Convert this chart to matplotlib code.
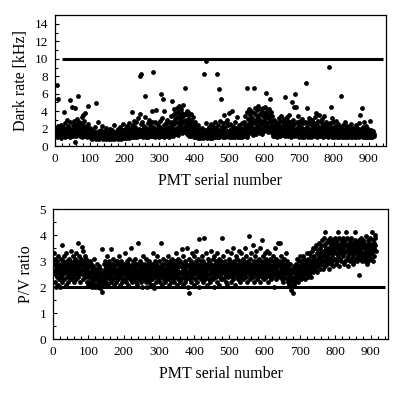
import numpy as np
import matplotlib
matplotlib.use("Agg")
import matplotlib.pyplot as plt
from matplotlib.ticker import MultipleLocator

plt.rcParams['font.family'] = ['Liberation Serif', 'DejaVu Serif']

# dark rate [kHz], one value per PMT serial number (1, 2, 3, ...)
dark_rate = [
    1.4, 2.1, 1.2, 1.8, 7.0, 1.5, 1.0, 2.3, 1.6, 5.4, 1.3, 1.9, 1.1, 2.0, 1.7, 1.2, 2.4, 1.5, 0.9, 1.8,
    1.6, 1.1, 2.2, 1.4, 3.9, 1.3, 1.7, 2.6, 1.0, 1.5, 2.0, 1.2, 1.8, 3.0, 1.4, 1.1, 2.3, 1.6, 1.9, 1.3,
    2.1, 1.5, 1.0, 2.7, 5.3, 1.7, 1.2, 4.5, 2.0, 1.4, 1.8, 2.4, 1.1, 1.6, 2.9, 1.3, 2.2, 0.5, 4.4, 1.9,
    2.5, 1.2, 3.1, 1.7, 2.0, 1.4, 5.7, 2.3, 1.6, 2.8, 1.1, 1.9, 2.6, 1.3, 2.2, 1.5, 3.3, 1.8, 1.0, 2.4,
    1.7, 3.5, 1.2, 2.0, 2.9, 1.4, 3.8, 1.6, 1.1, 2.2, 1.3, 1.8, 1.0, 2.5, 1.5, 4.6, 1.2, 1.9, 1.4, 2.1,
    1.1, 1.6, 0.9, 1.3, 2.0, 1.0, 1.4, 0.8, 1.7, 1.2, 0.9, 1.5, 1.1, 2.2, 1.0, 1.3, 0.8, 1.6, 4.9, 1.2,
    1.0, 1.4, 2.8, 0.9, 1.2, 1.7, 1.0, 0.8, 1.5, 1.1, 1.3, 0.9, 1.8, 1.0, 1.2, 2.3, 0.8, 1.4, 1.1, 1.6,
    0.9, 1.3, 1.0, 1.7, 1.2, 0.8, 1.5, 2.1, 1.0, 1.3, 0.9, 1.1, 1.6, 0.8, 1.4, 1.0, 1.2, 1.9, 0.9, 1.3,
    1.1, 0.8, 1.5, 1.0, 1.8, 1.2, 0.9, 1.4, 2.4, 1.1, 0.8, 1.3, 1.6, 1.0, 1.2, 0.9, 1.7, 1.1, 1.4, 0.8,
    1.2, 1.9, 1.0, 1.5, 0.9, 1.3, 2.2, 1.1, 1.6, 0.8, 1.4, 1.0, 1.8, 1.2, 2.5, 1.0, 1.5, 0.9, 1.3, 1.7,
    1.1, 2.0, 1.4, 0.9, 1.6, 1.2, 2.3, 1.0, 1.5, 1.8, 1.1, 2.6, 1.3, 0.9, 1.7, 1.2, 2.1, 1.0, 1.4, 3.9,
    1.3, 1.8, 1.0, 2.4, 1.5, 1.1, 2.9, 1.4, 1.9, 1.0, 2.2, 1.6, 1.2, 2.7, 1.3, 1.0, 1.8, 3.2, 1.4, 1.1,
    2.0, 1.5, 8.0, 1.2, 3.7, 8.2, 1.7, 2.5, 1.1, 1.6, 2.8, 1.3, 1.9, 1.0, 2.3, 1.4, 1.2, 3.3, 1.6, 5.7,
    1.0, 2.1, 1.4, 1.8, 1.2, 2.6, 1.5, 1.0, 2.0, 1.3, 3.0, 1.7, 1.1, 2.4, 1.4, 1.9, 1.2, 2.8, 4.0, 1.5,
    1.1, 2.2, 8.5, 1.6, 1.3, 2.7, 1.0, 1.8, 4.1, 1.4, 2.0, 1.2, 2.5, 1.5, 1.1, 1.9, 1.3, 2.3, 1.0, 1.7,
    2.9, 1.4, 1.2, 2.1, 6.0, 1.5, 3.2, 1.1, 1.8, 5.4, 1.3, 2.4, 1.0, 4.0, 1.6, 2.0, 1.2, 2.6, 1.4, 1.9,
    1.1, 3.0, 1.5, 2.2, 1.3, 1.8, 2.7, 1.0, 2.0, 1.6, 1.2, 3.4, 1.4, 2.3, 5.2, 1.7, 2.8, 1.1, 3.6, 1.9,
    2.5, 4.2, 1.6, 3.1, 2.0, 3.8, 1.4, 2.7, 4.4, 1.8, 3.3, 2.2, 1.3, 3.9, 2.6, 4.6, 1.7, 3.0, 2.1, 3.6,
    4.3, 2.4, 3.2, 1.5, 3.8, 2.8, 4.7, 2.0, 3.4, 1.6, 2.9, 3.7, 2.2, 6.6, 1.9, 3.0, 2.5, 4.0, 1.4, 2.7,
    3.5, 1.8, 3.9, 2.3, 1.2, 3.1, 2.0, 2.6, 1.5, 3.7, 1.1, 2.4, 1.7, 2.9, 1.3, 2.1, 3.3, 1.0, 1.8, 2.5,
    1.2, 1.6, 2.8, 1.0, 1.4, 2.2, 1.1, 1.9, 1.3, 0.9, 1.7, 2.4, 1.0, 1.5, 1.2, 2.0, 0.9, 1.4, 1.1, 1.8,
    1.0, 1.3, 2.1, 0.9, 1.6, 1.2, 1.1, 1.5, 8.3, 1.0, 1.8, 1.3, 2.6, 9.8, 0.9, 1.4, 1.2, 1.9, 1.0, 1.6,
    1.3, 2.2, 1.1, 1.7, 0.9, 1.4, 2.5, 1.0, 1.6, 1.2, 2.0, 0.9, 1.5, 1.1, 2.3, 1.3, 1.8, 1.0, 1.4, 2.7,
    1.2, 1.6, 2.1, 1.0, 8.2, 1.5, 1.3, 2.4, 1.1, 6.5, 1.8, 1.0, 1.4, 2.9, 1.2, 5.4, 1.7, 1.1, 2.2, 1.5,
    1.0, 1.9, 2.6, 1.3, 3.6, 1.1, 1.6, 2.2, 1.0, 2.8, 1.4, 1.2, 3.0, 1.7, 1.1, 2.4, 1.3, 1.5, 3.8, 1.0,
    1.8, 1.2, 2.5, 1.0, 1.4, 2.0, 1.1, 4.0, 1.6, 1.3, 2.3, 1.0, 1.5, 1.9, 1.2, 2.7, 1.0, 1.4, 1.7, 1.1,
    2.1, 3.3, 1.2, 1.6, 1.0, 1.9, 1.3, 2.4, 1.1, 1.5, 1.0, 2.2, 1.4, 1.2, 1.8, 1.0, 2.6, 1.3, 1.6, 2.0,
    1.2, 2.8, 1.5, 1.1, 2.3, 3.4, 1.7, 1.3, 2.0, 3.9, 1.0, 6.6, 2.5, 1.4, 3.1, 1.8, 4.3, 2.2, 1.6, 2.9,
    3.6, 1.9, 2.4, 4.0, 1.5, 3.2, 2.1, 2.7, 1.3, 6.6, 3.8, 2.0, 4.4, 1.7, 2.6, 3.0, 1.4, 3.5, 2.3, 4.1,
    2.0, 3.3, 1.6, 4.6, 2.8, 2.2, 3.7, 1.5, 3.0, 4.2, 2.5, 1.8, 3.9, 2.7, 1.4, 3.4, 2.1, 4.4, 2.9, 1.7,
    3.8, 2.4, 3.1, 4.5, 1.9, 6.1, 3.6, 2.6, 4.0, 2.2, 3.3, 1.6, 4.3, 2.8, 3.5, 1.9, 5.4, 3.0, 2.3, 3.9,
    2.0, 3.4, 1.5, 2.7, 1.2, 2.2, 1.8, 3.0, 1.4, 2.5, 1.1, 2.0, 1.6, 2.8, 1.3, 2.3, 1.9, 1.0, 2.6, 1.5,
    2.1, 3.2, 1.4, 2.4, 1.7, 2.9, 1.2, 2.2, 1.8, 3.4, 1.5, 2.0, 2.7, 1.3, 1.9, 2.5, 1.6, 3.1, 1.1, 2.3,
    5.6, 1.7, 2.6, 1.4, 2.1, 3.3, 1.8, 2.4, 1.2, 2.9, 1.5, 2.0, 3.6, 1.3, 2.2, 1.7, 2.8, 1.0, 1.6, 5.0,
    2.3, 1.4, 3.0, 1.9, 4.5, 1.2, 2.5, 1.6, 6.0, 2.0, 1.3, 4.5, 1.8, 2.7, 1.1, 2.2, 3.4, 1.5, 1.9, 1.0,
    2.4, 1.3, 1.8, 2.9, 1.1, 1.6, 2.2, 1.0, 3.1, 1.4, 1.9, 1.2, 2.6, 1.5, 1.0, 2.0, 1.3, 2.8, 1.7, 7.2,
    1.2, 4.4, 1.6, 2.3, 1.0, 1.8, 2.7, 1.3, 1.5, 3.2, 1.1, 2.0, 1.4, 2.5, 1.7, 1.0, 3.0, 1.3, 2.2, 1.6,
    1.1, 2.6, 1.5, 1.9, 3.3, 1.2, 2.1, 1.4, 3.8, 1.7, 2.4, 1.0, 1.6, 2.9, 1.3, 2.2, 1.8, 3.5, 1.1, 2.0,
    1.5, 2.7, 1.2, 1.9, 3.1, 1.4, 2.3, 1.0, 1.7, 2.5, 1.3, 2.0, 3.4, 1.6, 1.1, 2.2, 1.4, 2.8, 1.8, 1.2,
    2.4, 1.5, 1.0, 2.0, 1.7, 9.1, 1.3, 2.6, 1.1, 1.9, 4.5, 1.4, 2.2, 1.0, 3.2, 1.6, 2.0, 1.2, 2.7, 1.5,
    1.0, 1.8, 2.3, 1.3, 1.6, 2.9, 1.1, 1.5, 2.1, 1.0, 1.7, 1.3, 2.5, 1.2, 1.9, 1.0, 1.4, 2.2, 1.6, 1.1,
    5.7, 1.3, 2.0, 1.0, 1.5, 2.4, 1.2, 1.8, 1.0, 1.4, 2.7, 1.1, 1.6, 2.1, 1.3, 1.0, 1.9, 1.5, 2.3, 1.2,
    1.0, 1.7, 1.3, 2.2, 1.1, 1.5, 1.9, 1.0, 2.5, 1.4, 1.2, 1.8, 1.0, 2.1, 1.3, 1.6, 1.1, 2.0, 1.4, 1.0,
    1.8, 1.2, 2.4, 1.5, 1.0, 1.7, 2.1, 1.3, 1.1, 1.9, 1.4, 2.6, 1.0, 1.6, 1.2, 3.6, 1.5, 2.0, 1.1, 4.4,
    1.3, 1.8, 1.0, 2.2, 1.4, 1.1, 2.7, 1.6, 1.2, 1.0, 1.9, 1.4, 2.3, 1.1, 1.5, 1.0, 1.7, 1.2, 2.0, 1.3,
    1.0, 1.6, 2.9, 1.2, 1.4, 1.0, 1.8, 1.1, 1.5, 1.3, 1.0, 1.7, 1.2, 1.4, 1.1,
]

# peak-to-valley ratio, one value per PMT serial number
pv_ratio = [
    3.3, 2.6, 2.9, 2.2, 3.1, 2.5, 2.8, 2.0, 2.7, 3.0, 2.4, 2.9, 2.1, 2.6, 3.2, 2.3, 2.8, 2.5, 2.0, 2.7,
    2.9, 2.4, 3.1, 2.6, 3.6, 2.2, 2.8, 3.0, 2.5, 2.7, 2.3, 3.2, 2.6, 2.9, 2.1, 2.8, 3.3, 2.4, 2.7, 3.0,
    2.5, 2.9, 2.2, 3.1, 2.7, 2.4, 3.0, 2.6, 2.8, 3.4, 2.3, 2.7, 2.9, 2.5, 3.2, 2.6, 2.4, 3.0, 2.8, 2.2,
    2.7, 3.1, 2.5, 2.9, 2.3, 3.3, 2.6, 2.8, 3.0, 2.4, 3.7, 2.7, 2.5, 3.2, 2.9, 2.2, 2.8, 3.1, 2.6, 3.0,
    3.55, 2.5, 2.9, 3.4, 2.7, 2.3, 3.0, 2.6, 3.2, 2.8, 2.4, 3.1, 2.5, 2.9, 2.2, 2.7, 3.0, 2.4, 2.6, 2.1,
    2.5, 2.8, 2.2, 3.0, 2.4, 2.6, 2.1, 2.9, 2.3, 2.7, 2.0, 2.5, 2.8, 2.2, 2.4, 3.1, 2.1, 2.6, 2.3, 2.0,
    2.4, 2.7, 2.1, 2.5, 2.9, 2.2, 2.0, 2.6, 2.3, 2.8, 2.1, 2.4, 1.95, 2.7, 2.2, 2.5, 2.0, 3.45, 1.82, 2.3,
    2.6, 2.2, 2.9, 2.4, 2.1, 2.7, 3.0, 2.3, 2.5, 2.8, 2.2, 3.2, 2.6, 2.4, 2.9, 2.1, 2.7, 3.0, 2.5, 2.3,
    2.8, 2.4, 3.45, 2.6, 2.2, 2.9, 2.5, 2.7, 3.1, 2.3, 2.6, 2.8, 2.1, 3.0, 2.4, 2.7, 2.5, 2.9, 2.2, 2.6,
    3.0, 2.4, 2.7, 2.9, 2.3, 2.6, 3.2, 2.5, 2.8, 2.1, 2.7, 3.0, 2.4, 2.6, 2.9, 2.2, 2.5, 2.8, 2.3, 2.7,
    2.6, 2.9, 2.3, 3.3, 2.5, 2.8, 2.2, 2.7, 3.0, 2.4, 2.6, 2.9, 2.1, 2.8, 2.5, 3.1, 2.3, 2.7, 2.6, 2.4,
    2.8, 3.5, 2.5, 2.2, 2.9, 2.6, 3.0, 2.4, 2.7, 2.3, 2.8, 2.5, 3.1, 2.2, 2.6, 2.9, 2.4, 2.7, 2.1, 2.5,
    2.9, 3.7, 2.6, 2.3, 2.8, 2.4, 3.0, 2.7, 2.2, 2.5, 2.9, 2.6, 2.0, 2.8, 3.2, 2.4, 2.7, 2.3, 2.6, 2.9,
    2.5, 2.2, 2.8, 3.1, 2.4, 2.6, 2.0, 2.7, 2.9, 2.3, 2.5, 3.0, 2.2, 2.8, 2.6, 2.4, 2.1, 2.7, 2.5, 2.9,
    2.3, 3.3, 2.6, 2.1, 2.8, 2.5, 1.95, 2.7, 3.0, 2.4, 2.6, 2.9, 2.2, 2.5, 3.2, 2.7, 2.3, 2.8, 2.4, 2.6,
    3.0, 2.5, 2.7, 2.2, 3.7, 2.6, 2.4, 2.9, 2.1, 2.8, 2.5, 3.1, 2.3, 2.7, 2.6, 2.9, 2.4, 2.2, 3.0, 2.5,
    2.7, 2.4, 2.9, 2.6, 3.2, 2.3, 2.8, 2.5, 2.1, 2.7, 3.0, 2.4, 2.6, 2.9, 2.2, 2.8, 2.5, 3.1, 2.3, 2.7,
    2.5, 2.9, 2.2, 2.7, 3.0, 2.4, 2.8, 2.6, 3.3, 2.1, 2.7, 2.5, 2.9, 2.3, 3.1, 2.6, 2.8, 2.4, 2.2, 3.0,
    2.6, 2.8, 2.3, 3.45, 2.5, 2.9, 2.7, 2.1, 3.2, 2.4, 2.8, 2.6, 3.0, 2.2, 2.7, 2.5, 2.9, 2.3, 3.5, 2.6,
    2.4, 2.8, 2.0, 3.1, 1.78, 2.6, 2.9, 2.3, 2.7, 3.0, 2.5, 2.2, 2.8, 3.3, 2.4, 2.6, 2.9, 2.1, 2.7, 3.2,
    2.5, 2.8, 2.3, 3.0, 2.6, 3.4, 2.2, 2.7, 2.9, 2.4, 3.1, 2.6, 2.8, 2.0, 3.85, 2.5, 2.7, 3.0, 2.3, 2.9,
    2.6, 3.2, 2.4, 2.8, 2.2, 3.0, 2.7, 2.5, 3.9, 2.3, 2.9, 2.6, 3.3, 2.4, 2.8, 2.1, 2.7, 3.1, 2.5, 2.9,
    2.3, 2.7, 3.0, 2.5, 2.8, 2.2, 3.4, 2.6, 2.9, 2.4, 2.7, 3.1, 2.3, 2.6, 2.8, 2.0, 3.2, 2.5, 2.7, 2.9,
    2.4, 3.0, 2.6, 2.2, 2.8, 3.3, 2.5, 2.7, 2.1, 2.9, 3.1, 2.4, 2.6, 2.8, 2.3, 3.0, 2.5, 2.7, 3.9, 2.6,
    2.8, 2.3, 3.2, 2.6, 2.9, 2.4, 2.7, 3.0, 2.2, 2.5, 2.8, 3.4, 2.6, 2.1, 2.9, 2.7, 2.4, 3.1, 2.6, 2.8,
    3.0, 2.5, 2.7, 2.2, 3.3, 2.9, 2.4, 2.6, 2.8, 3.5, 2.3, 2.7, 3.0, 2.5, 2.9, 2.1, 2.6, 3.2, 2.8, 2.4,
    2.7, 3.1, 2.5, 2.9, 2.3, 3.4, 2.6, 2.8, 2.2, 3.0, 2.7, 2.5, 3.3, 2.4, 2.9, 2.6, 3.1, 2.8, 2.3, 2.7,
    3.0, 2.5, 2.8, 3.5, 2.6, 2.9, 2.4, 3.2, 2.7, 2.2, 2.8, 3.0, 2.6, 3.95, 2.5, 2.9, 2.3, 3.1, 2.7, 2.4,
    2.8, 3.3, 2.5, 2.9, 2.6, 3.6, 2.4, 2.7, 3.0, 2.2, 2.8, 3.2, 2.6, 2.9, 2.5, 3.4, 2.3, 2.7, 3.0, 2.6,
    2.9, 2.4, 3.1, 2.7, 2.5, 3.5, 2.8, 2.2, 3.0, 2.6, 3.8, 2.9, 2.4, 3.2, 2.7, 2.5, 3.0, 2.3, 2.8, 3.3,
    2.6, 2.9, 2.4, 3.1, 2.7, 3.4, 2.5, 2.8, 2.2, 3.0, 2.6, 3.3, 2.9, 2.4, 2.7, 3.1, 2.5, 2.8, 2.3, 3.0,
    2.7, 2.4, 3.2, 2.6, 2.9, 2.0, 2.8, 3.0, 2.5, 3.5, 2.7, 2.3, 3.1, 2.6, 2.9, 2.4, 3.7, 2.8, 2.5, 3.0,
    2.6, 2.9, 3.7, 2.4, 2.7, 3.2, 2.5, 2.8, 2.3, 3.0, 2.6, 2.9, 2.2, 2.7, 3.1, 2.4, 2.8, 2.5, 3.3, 2.6,
    2.9, 2.3, 2.7, 3.0, 2.5, 2.2, 2.8, 2.4, 2.6, 2.1, 2.9, 2.3, 2.5, 1.9, 2.7, 2.2, 2.4, 2.0, 2.6, 1.78,
    2.3, 2.6, 2.1, 2.8, 2.4, 2.2, 2.7, 2.5, 2.9, 2.3, 3.1, 2.6, 2.4, 2.8, 2.2, 3.0, 2.5, 2.7, 3.2, 2.4,
    2.8, 2.6, 3.0, 2.3, 2.7, 2.9, 2.5, 3.2, 2.4, 2.8, 2.6, 3.1, 2.3, 2.9, 2.7, 2.5, 3.0, 2.8, 3.3, 2.6,
    2.9, 2.4, 3.1, 2.7, 3.3, 2.5, 2.8, 3.0, 2.6, 3.2, 2.9, 2.4, 3.4, 2.7, 3.0, 2.8, 3.5, 2.6, 3.1, 2.9,
    3.2, 2.7, 3.5, 3.0, 2.8, 3.6, 2.9, 3.3, 2.6, 3.1, 3.4, 2.8, 3.7, 3.0, 3.2, 2.7, 3.5, 3.3, 2.9, 3.6,
    3.1, 3.8, 2.9, 3.4, 3.2, 2.7, 3.6, 3.0, 3.9, 3.3, 4.1, 2.8, 3.5, 3.1, 3.7, 3.4, 2.9, 3.2, 3.8, 3.0,
    3.5, 3.3, 2.7, 3.7, 3.1, 3.9, 3.4, 2.9, 3.6, 3.2, 3.8, 3.0, 3.5, 3.3, 2.8, 3.7, 3.4, 3.9, 3.1, 3.6,
    3.3, 2.9, 3.7, 3.5, 3.0, 3.8, 4.1, 3.2, 3.6, 3.4, 2.8, 3.9, 3.1, 3.5, 3.7, 3.3, 3.0, 3.8, 3.4, 3.6,
    3.2, 3.9, 3.5, 2.9, 3.7, 3.3, 3.6, 3.0, 3.8, 4.1, 3.4, 3.1, 3.6, 3.9, 3.2, 3.5, 2.8, 3.7, 3.3, 3.5,
    3.0, 3.8, 3.4, 3.6, 3.1, 3.9, 3.3, 3.5, 2.9, 3.7, 3.2, 3.6, 3.4, 3.0, 3.8, 3.3, 4.1, 3.5, 3.1, 3.6,
    3.4, 3.0, 3.7, 3.2, 3.5, 2.45, 3.8, 3.3, 3.6, 3.1, 3.4, 3.9, 3.2, 3.7, 3.0, 3.5, 3.3, 3.8, 3.1, 3.6,
    3.3, 3.7, 3.0, 3.5, 3.2, 3.95, 3.4, 3.1, 3.6, 2.9, 3.3, 3.8, 3.5, 3.0, 3.4, 3.7, 3.2, 3.5, 3.9, 3.3,
    3.6, 3.1, 3.5, 4.1, 3.3, 3.8, 3.4, 3.0, 3.7, 3.5, 3.2, 3.9, 4.0, 3.6, 3.4,
]

dark_limit = 10
pv_limit = 2
limit_span = (20, 940)

fig = plt.figure(figsize=(4.09, 3.99), dpi=100)
ax1 = fig.add_axes([0.134, 0.634, 0.810, 0.328])
ax2 = fig.add_axes([0.130, 0.150, 0.819, 0.326])

panels = [
    (ax1, dark_rate, dark_limit, "Dark rate [kHz]", (0, 15), 2, 1),
    (ax2, pv_ratio, pv_limit, "P/V ratio", (0, 5), 1, 0.5),
]

for ax, vals, lim, ylabel, ylim, ymaj, ymin in panels:
    x = np.arange(1, len(vals) + 1)
    ax.scatter(x, vals, s=12, color="black", linewidths=0, zorder=3)
    ax.hlines(lim, limit_span[0], limit_span[1], color="black", lw=2.2, zorder=2)
    ax.set_xlim(0, 950)
    ax.set_ylim(*ylim)
    ax.set_xticks(np.arange(0, 901, 100))
    ax.xaxis.set_minor_locator(MultipleLocator(20))
    ax.yaxis.set_major_locator(MultipleLocator(ymaj))
    ax.yaxis.set_minor_locator(MultipleLocator(ymin))
    if ylim[1] == 15:
        ax.set_yticks(np.arange(0, 15, 2))
    ax.tick_params(which="both", direction="in", labelsize=9.5, width=0.8)
    ax.tick_params(which="major", length=3, pad=5)
    ax.tick_params(which="minor", length=2)
    for sp in ax.spines.values():
        sp.set_linewidth(0.9)
    ax.set_xlabel("PMT serial number", fontsize=11.5, labelpad=6)
    ax.set_ylabel(ylabel, fontsize=11.5, labelpad=4)

fig.savefig("out.png", dpi=100)
